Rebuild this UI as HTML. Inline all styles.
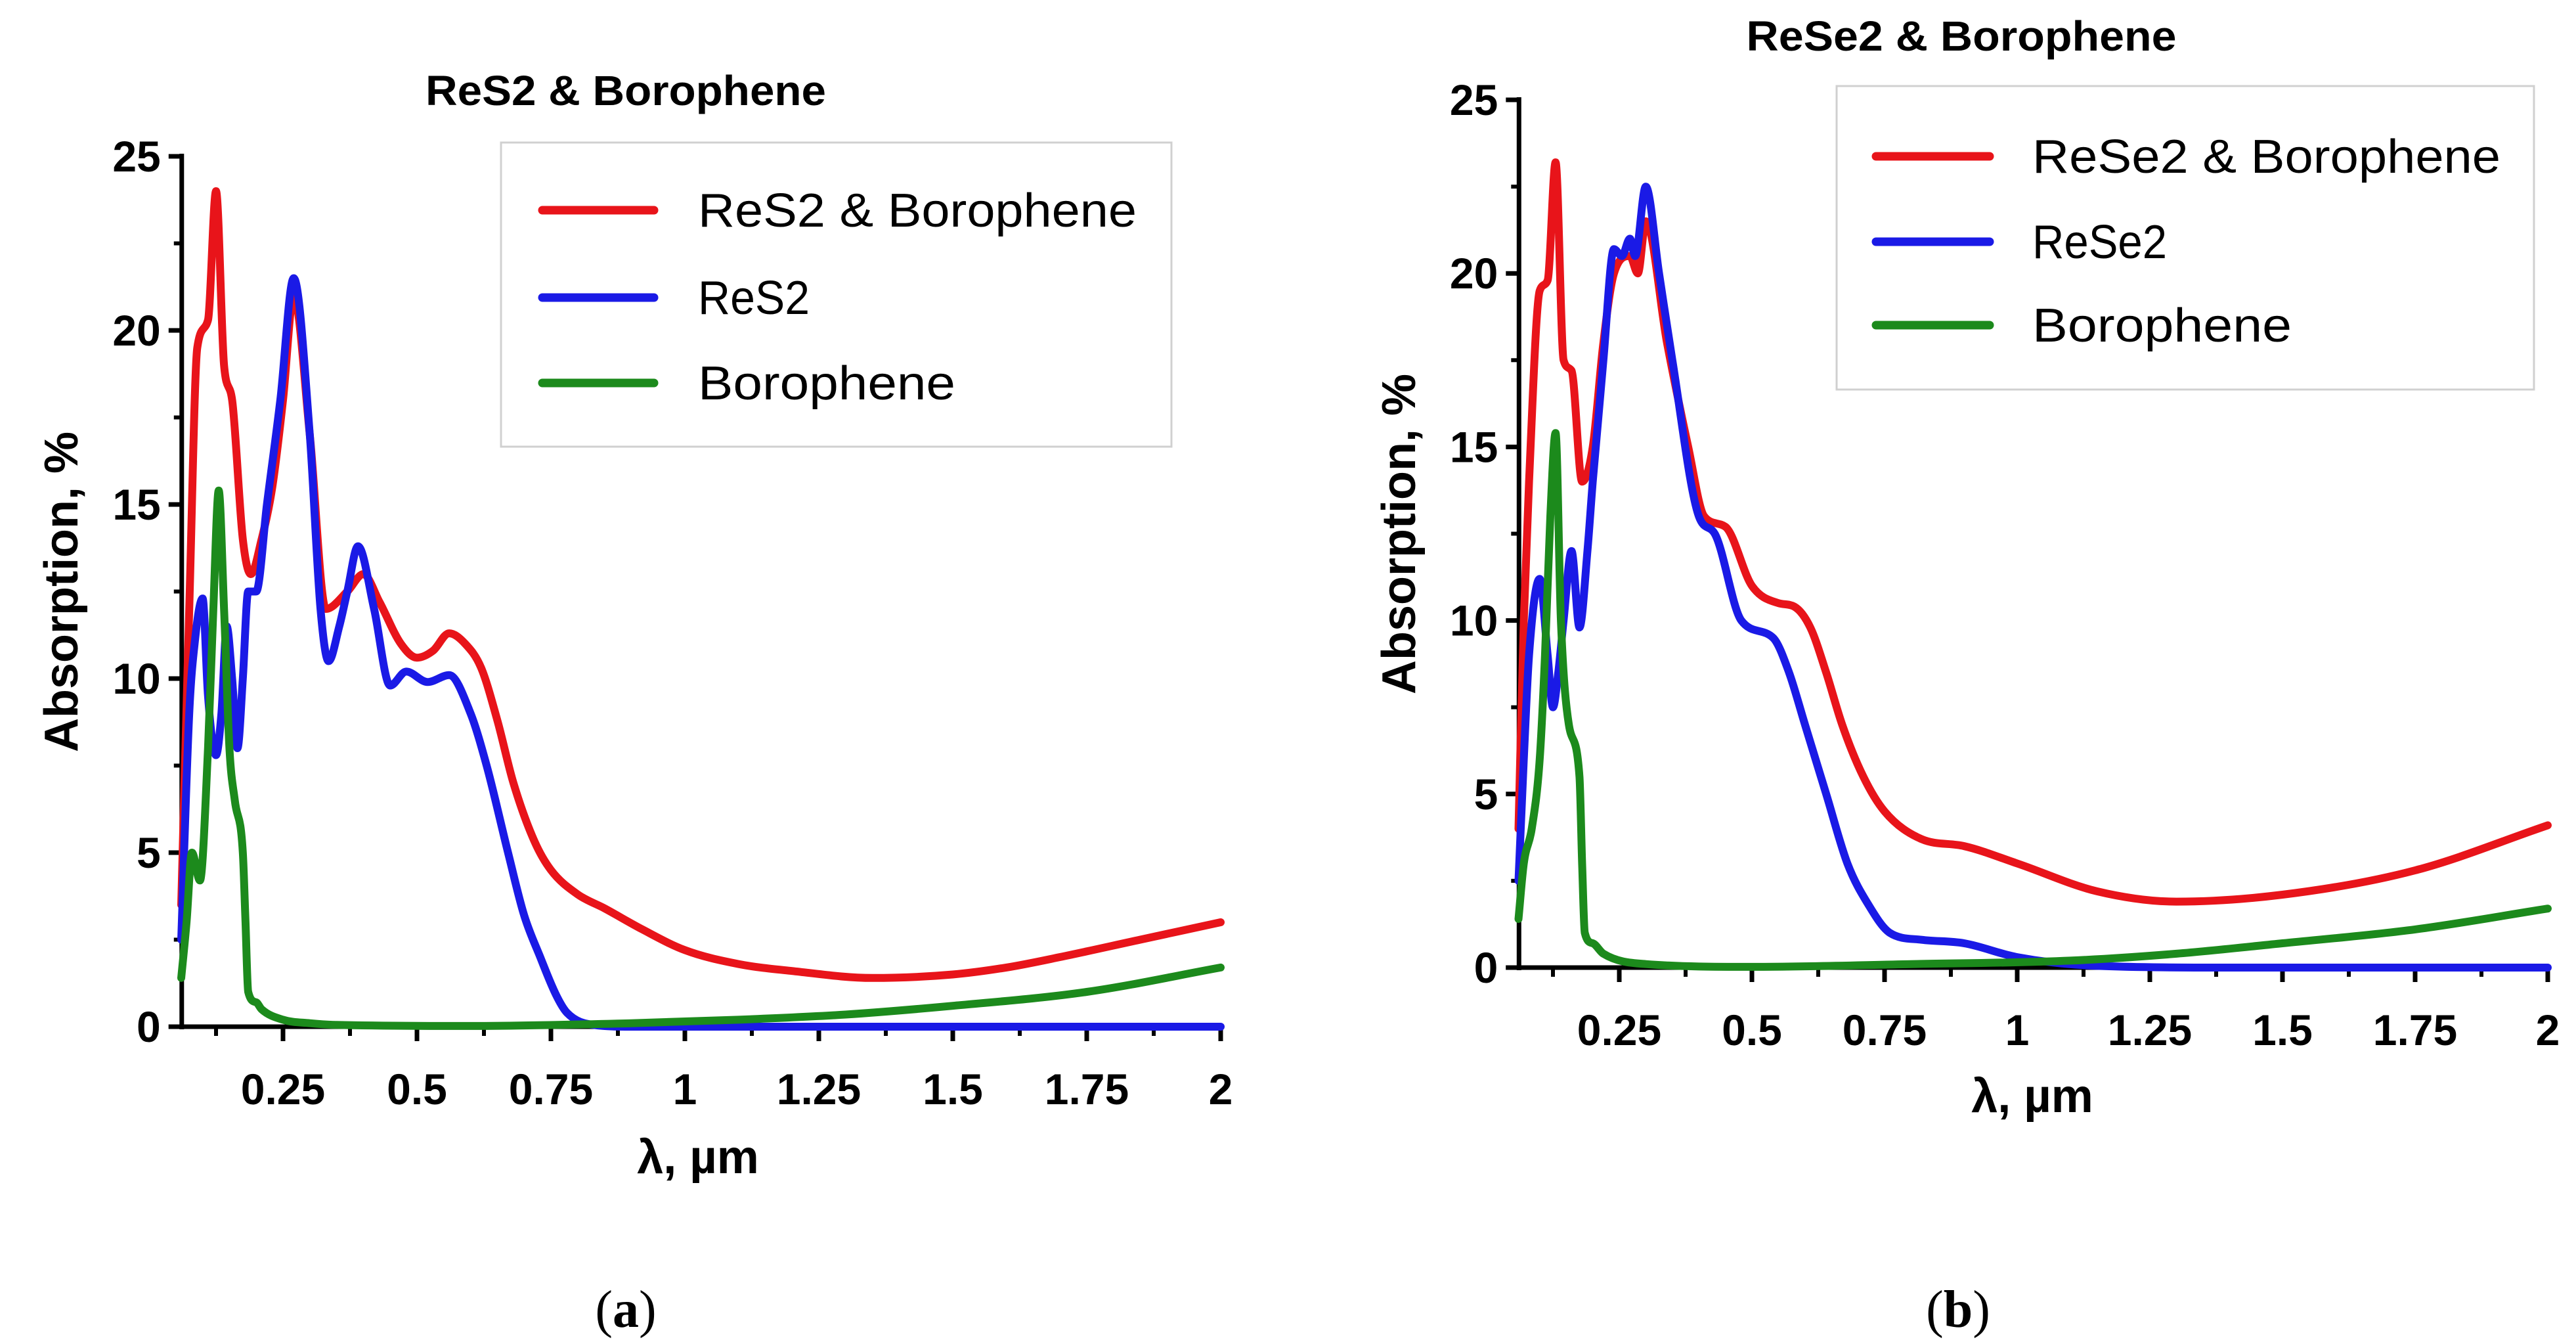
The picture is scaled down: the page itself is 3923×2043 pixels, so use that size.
<!DOCTYPE html>
<html><head><meta charset="utf-8"><style>
html,body{margin:0;padding:0;background:#fff;}
svg{display:block;}
text{font-family:"Liberation Sans","DejaVu Sans",sans-serif;}
</style></head><body>
<svg id="fig" width="3923" height="2043" viewBox="0 0 3923 2043" xmlns="http://www.w3.org/2000/svg">
<rect width="3923" height="2043" fill="#fff"/>
</svg>
<script>
// ---- Chart (a) data ----
const aRedX  = [0.06,0.075,0.09,0.11,0.125,0.14,0.155,0.175,0.19,0.21,0.23,0.25,0.27,0.3,0.33,0.37,0.4,0.43,0.47,0.5,0.53,0.56,0.59,0.62,0.65,0.68,0.72,0.75,0.8,0.85,0.92,1.0,1.1,1.2,1.35,1.5,1.6,1.7,1.85,2.0];
const aRedY  = [3.5,12,19.5,20.3,24,19,18,14,13,14,15.5,18,21,17,12,12.5,13,12.2,11,10.6,10.8,11.3,11,10.3,8.8,7,5.3,4.5,3.8,3.4,2.8,2.2,1.8,1.6,1.4,1.5,1.7,2.0,2.5,3.0];
const aBlueX = [0.06,0.075,0.085,0.1,0.11,0.125,0.135,0.145,0.155,0.165,0.175,0.185,0.2,0.22,0.245,0.27,0.3,0.32,0.335,0.355,0.37,0.39,0.42,0.45,0.48,0.52,0.56,0.6,0.63,0.67,0.7,0.73,0.76,0.78,0.83,0.9,1.2,1.6,2.0];
const aBlueY = [2.5,9,11,12.3,9.5,7.8,9,11.5,10,8,10,12.5,12.5,15,18,21.5,17,12,10.5,11.5,12.5,13.8,12,9.8,10.2,9.9,10.1,9,7.5,5,3.2,2,0.9,0.4,0.05,0,0,0,0];
const aGrnX  = [0.06,0.07,0.08,0.095,0.11,0.12,0.13,0.14,0.15,0.16,0.175,0.18,0.185,0.2,0.21,0.25,0.3,0.35,0.6,0.9,1.1,1.3,1.5,1.75,2.0];
const aGrnY  = [1.4,3,5,4.2,8,12,15.4,12,8,6.5,5,3,1,0.7,0.5,0.2,0.1,0.05,0.02,0.1,0.2,0.35,0.6,1.0,1.7];
// ---- Chart (b) data ----
const bRedX  = [0.06,0.07,0.08,0.1,0.115,0.13,0.145,0.16,0.18,0.2,0.22,0.24,0.27,0.285,0.3,0.34,0.38,0.41,0.45,0.5,0.55,0.58,0.61,0.64,0.67,0.71,0.75,0.82,0.9,1.0,1.15,1.3,1.5,1.75,2.0];
const bRedY  = [4,10,14,19.5,19.8,23.2,17.5,17.2,14,15,18,20,20.5,20,21.5,18,15,13,12.7,11,10.5,10.4,9.8,8.5,7,5.5,4.5,3.7,3.5,3.0,2.2,1.9,2.1,2.8,4.1];
const bBlueX = [0.06,0.07,0.08,0.1,0.115,0.125,0.135,0.145,0.16,0.175,0.19,0.2,0.22,0.24,0.255,0.27,0.28,0.3,0.325,0.35,0.4,0.43,0.48,0.54,0.57,0.6,0.64,0.68,0.72,0.76,0.82,0.9,1.0,1.15,1.4,2.0];
const bBlueY = [2.5,6,9,11.2,9,7.5,8.5,10,12,9.8,12,14,17.5,20.7,20.5,21,20.5,22.5,20,17.5,13,12.5,10,9.5,8.5,7,5,3,1.8,1,0.8,0.7,0.3,0.05,0,0];
const bGrnX  = [0.06,0.07,0.085,0.1,0.11,0.12,0.13,0.14,0.155,0.175,0.18,0.185,0.2,0.22,0.3,0.5,0.8,1.1,1.3,1.5,1.75,2.0];
const bGrnY  = [1.4,3,4,6,9,13,15.4,10,7,5.5,3,1,0.7,0.4,0.1,0.02,0.1,0.2,0.4,0.7,1.1,1.7];
const yTicks = [0,5,10,15,20,25];
const xTicks = [0.25,0.5,0.75,1,1.25,1.5,1.75,2];
const xTickLabels = ["0.25","0.5","0.75","1","1.25","1.5","1.75","2"];

const NS="http://www.w3.org/2000/svg";
const svg=document.getElementById('fig');
function mk(tag,attrs,parent,txt){const e=document.createElementNS(NS,tag);for(const k in attrs)e.setAttribute(k,attrs[k]);if(txt!==undefined)e.textContent=txt;(parent||svg).appendChild(e);return e;}

// monotone cubic path through screen points
function smoothPath(px,py){
  const n=px.length;if(n<2)return '';
  const dx=[],m=[],t=new Array(n);
  for(let i=0;i<n-1;i++){dx[i]=px[i+1]-px[i];m[i]=(py[i+1]-py[i])/dx[i];}
  t[0]=m[0];t[n-1]=m[n-2];
  for(let i=1;i<n-1;i++){t[i]=(m[i-1]*m[i]<=0)?0:(m[i-1]+m[i])/2;}
  for(let i=0;i<n-1;i++){
    if(m[i]===0){t[i]=0;t[i+1]=0;continue;}
    const a=t[i]/m[i],b=t[i+1]/m[i],s=a*a+b*b;
    if(s>9){const k=3/Math.sqrt(s);t[i]=k*a*m[i];t[i+1]=k*b*m[i];}
  }
  let d='M'+px[0].toFixed(1)+','+py[0].toFixed(1);
  for(let i=0;i<n-1;i++){const h=dx[i]/3;
    d+='C'+(px[i]+h).toFixed(1)+','+(py[i]+t[i]*h).toFixed(1)+' '+(px[i+1]-h).toFixed(1)+','+(py[i+1]-t[i+1]*h).toFixed(1)+' '+px[i+1].toFixed(1)+','+py[i+1].toFixed(1);}
  return d;
}

function drawChart(cfg){
  const g=mk('g',{});
  
  
  const sx=v=>cfg.x0+v*cfg.kx, sy=v=>cfg.y0-v*cfg.ky;
  const xStart=sx(0.061), xEnd=sx(2);
  for(let v=2.5;v<25;v+=5){const t=mk('line',{x1:xStart-12,x2:xStart,y1:sy(v),y2:sy(v),stroke:'#000','stroke-width':6},g);
    }
  yTicks.forEach(v=>{
    const t=mk('line',{x1:xStart-20,x2:xStart,y1:sy(v),y2:sy(v),stroke:'#000','stroke-width':7},g);
    
    const l=mk('text',{x:xStart-32,y:sy(v)+23,'text-anchor':'end','font-size':66,'font-weight':'bold'},g,String(v));
    
  });
  for(let v=0.125;v<2;v+=0.25){const t=mk('line',{x1:sx(v),x2:sx(v),y1:cfg.y0,y2:cfg.y0+14,stroke:'#000','stroke-width':6},g);
    }
  xTicks.forEach((v,i)=>{
    const t=mk('line',{x1:sx(v),x2:sx(v),y1:cfg.y0,y2:cfg.y0+22,stroke:'#000','stroke-width':7},g);
    
    const l=mk('text',{x:sx(v),y:cfg.y0+118,'text-anchor':'middle','font-size':66,'font-weight':'bold'},g,xTickLabels[i]);
    
  });
  const ya=mk('line',{x1:xStart,x2:xStart,y1:sy(25)-4,y2:cfg.y0+4,stroke:'#000','stroke-width':7},g);
  
  const xa=mk('line',{x1:xStart-20,x2:xEnd,y1:cfg.y0,y2:cfg.y0,stroke:'#000','stroke-width':7},g);
  
  cfg.series.forEach(s=>{
    const d=smoothPath(s.x.map(sx),s.y.map(sy));
    const p=mk('path',{d:d,fill:'none',stroke:s.color,'stroke-width':12,'stroke-linejoin':'round','stroke-linecap':'round'},g);
    
  });
  const tt=mk('text',{x:cfg.titleX,y:cfg.titleY,'text-anchor':'middle','font-size':64,'font-weight':'bold',textLength:cfg.titleW,lengthAdjust:'spacingAndGlyphs'},g,cfg.title);
  
  const xt=mk('text',{x:cfg.xtX,y:cfg.xtY,'text-anchor':'middle','font-size':72,'font-weight':'bold'},g,'λ, µm');
  
  const yt=mk('text',{x:0,y:0,'text-anchor':'middle','font-size':72,'font-weight':'bold',transform:`translate(${cfg.ytX},${cfg.ytY}) rotate(-90)`},g,'Absorption, %');
  
  const lg=mk('g',{},g);
  
  const lb=mk('rect',{x:cfg.lgX,y:cfg.lgY,width:cfg.lgW,height:cfg.lgH,fill:'#fff',stroke:'#d0d0d0','stroke-width':3},lg);
  
  cfg.series.forEach((s,i)=>{
    const yy=cfg.lgRows[i];
    const ln=mk('line',{x1:cfg.lgLineX1,x2:cfg.lgLineX2,y1:yy,y2:yy,stroke:s.color,'stroke-width':13,'stroke-linecap':'round'},lg);
    
    const tx=mk('text',{x:cfg.lgTextX,y:yy+25,'font-size':72,textLength:cfg.lgTextW[i],lengthAdjust:'spacingAndGlyphs'},lg,s.label);
    
  });
}

drawChart({id:'chart-a',x0:227,kx:816,y0:1563,ky:53,
  title:'ReS2 & Borophene',titleX:953,titleY:160,titleW:610,
  xtX:1063,xtY:1786,ytX:118,ytY:901,
  lgX:763,lgY:217,lgW:1021,lgH:463,lgRows:[320,453,583],lgLineX1:826,lgLineX2:996,lgTextX:1063,lgTextW:[668,170,392],
  series:[{name:'res2-borophene-line',label:'ReS2 & Borophene',color:'#e8141a',x:aRedX,y:aRedY},
          {name:'res2-line',label:'ReS2',color:'#1a1ae6',x:aBlueX,y:aBlueY},
          {name:'borophene-line',label:'Borophene',color:'#1c8a1c',x:aGrnX,y:aGrnY}]});
drawChart({id:'chart-b',x0:2264,kx:808,y0:1473,ky:52.84,
  title:'ReSe2 & Borophene',titleX:2987,titleY:77,titleW:655,
  xtX:3095,xtY:1693,ytX:2155,ytY:813,
  lgX:2797,lgY:131,lgW:1062,lgH:462,lgRows:[238,368,495],lgLineX1:2857,lgLineX2:3030,lgTextX:3095,lgTextW:[713,205,395],
  series:[{name:'rese2-borophene-line',label:'ReSe2 & Borophene',color:'#e8141a',x:bRedX,y:bRedY},
          {name:'rese2-line',label:'ReSe2',color:'#1a1ae6',x:bBlueX,y:bBlueY},
          {name:'borophene-line',label:'Borophene',color:'#1c8a1c',x:bGrnX,y:bGrnY}]});

const ca=mk('text',{x:953,y:2020,'text-anchor':'middle','font-size':80,style:'font-family:"Liberation Serif",serif'});


ca.innerHTML='(<tspan font-weight="bold">a</tspan>)';
const cb=mk('text',{x:2982,y:2020,'text-anchor':'middle','font-size':80,style:'font-family:"Liberation Serif",serif'});


cb.innerHTML='(<tspan font-weight="bold">b</tspan>)';
</script>
</body></html>
